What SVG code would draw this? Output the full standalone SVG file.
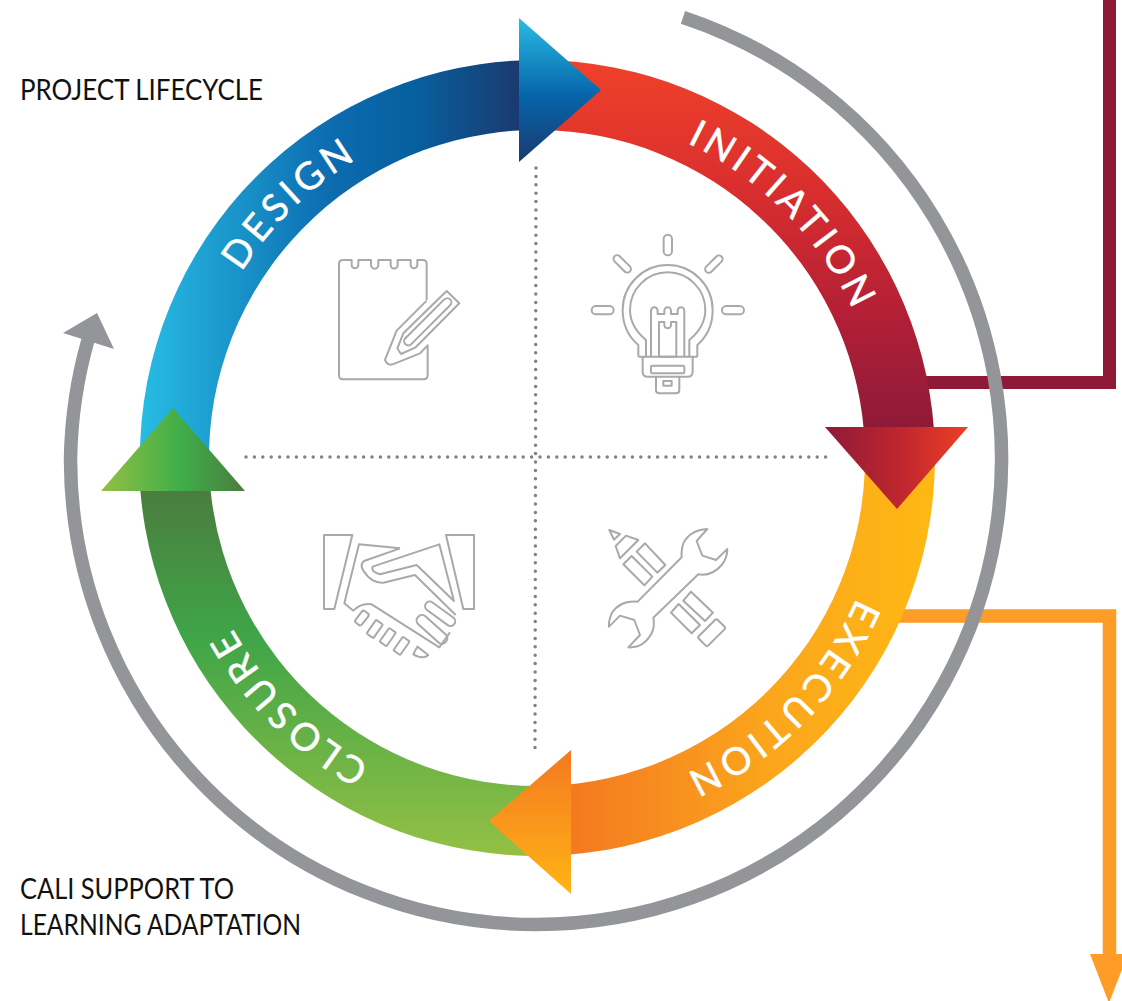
<svg xmlns="http://www.w3.org/2000/svg" width="1122" height="1001" viewBox="0 0 1122 1001">
<style>
.lbl{font-family:"Lato","Liberation Sans",sans-serif;font-size:28px;fill:#111}
.ring{font-family:"Lato","Liberation Sans",sans-serif;font-size:38px;fill:#fff;stroke:#fff;stroke-width:.5;letter-spacing:4.500px;text-anchor:middle}
.ic{fill:none;stroke:#a7a9ac;stroke-width:6;stroke-linejoin:round}
.dot{fill:none;stroke:#808285;stroke-width:3.5;stroke-linecap:round;stroke-dasharray:0 8.4}
</style>
<defs>
<linearGradient id="gInit" gradientUnits="userSpaceOnUse" x1="0" y1="62" x2="0" y2="427"><stop offset="0" stop-color="#ef412a"/><stop offset=".35" stop-color="#d92e2e"/><stop offset=".7" stop-color="#b21f36"/><stop offset="1" stop-color="#8e1a38"/></linearGradient>
<linearGradient id="gExec" gradientUnits="userSpaceOnUse" x1="571" y1="0" x2="935" y2="0"><stop offset="0" stop-color="#f47920"/><stop offset=".55" stop-color="#fba61c"/><stop offset="1" stop-color="#feb813"/></linearGradient>
<linearGradient id="gClos" gradientUnits="userSpaceOnUse" x1="0" y1="491" x2="0" y2="857"><stop offset="0" stop-color="#4a7d3f"/><stop offset=".4" stop-color="#3fa548"/><stop offset="1" stop-color="#94c044"/></linearGradient>
<linearGradient id="gDes" gradientUnits="userSpaceOnUse" x1="141" y1="0" x2="519" y2="0"><stop offset="0" stop-color="#27bce4"/><stop offset=".5" stop-color="#0c6cb0"/><stop offset=".72" stop-color="#07609f"/><stop offset="1" stop-color="#1a3a70"/></linearGradient>
<linearGradient id="aBlue" gradientUnits="userSpaceOnUse" x1="0" y1="18" x2="0" y2="162"><stop offset="0" stop-color="#27bce4"/><stop offset=".55" stop-color="#0663a9"/><stop offset="1" stop-color="#1a3a70"/></linearGradient>
<linearGradient id="aRed" gradientUnits="userSpaceOnUse" x1="825" y1="0" x2="968" y2="0"><stop offset="0" stop-color="#8e1a38"/><stop offset=".55" stop-color="#c1272d"/><stop offset="1" stop-color="#ee4027"/></linearGradient>
<linearGradient id="aOr" gradientUnits="userSpaceOnUse" x1="0" y1="750" x2="0" y2="894"><stop offset="0" stop-color="#f47920"/><stop offset="1" stop-color="#feb415"/></linearGradient>
<linearGradient id="aGr" gradientUnits="userSpaceOnUse" x1="101" y1="0" x2="245" y2="0"><stop offset="0" stop-color="#94c044"/><stop offset=".55" stop-color="#3fae49"/><stop offset="1" stop-color="#4a7d3f"/></linearGradient>
<path id="pI" d="M570.4 110.6A349 349 0 0 1 884.9 430.6"/>
<path id="pD" d="M189.3 427.6A349 349 0 0 1 506.6 110.3"/>
<path id="pE" d="M884.9 485.4A349 349 0 0 1 570.4 805.4"/>
<path id="pC" d="M506.6 805.7A349 349 0 0 1 189.3 488.4"/>
</defs>
<rect width="1122" height="1001" fill="#fff"/>
<g id="connectors">
<path d="M1109.500 0V382.500H920" fill="none" stroke="#8e1a38" stroke-width="13"/>
<path d="M890 616H1109.500V956" fill="none" stroke="#fd9d27" stroke-width="13.500"/>
<polygon points="1090,954 1128,954 1109,1003" fill="#fd9d27"/>
<path d="M683 17.300A465.500 465.500 0 0 1 536 924.500A465.500 465.500 0 0 1 70.500 459A465.500 465.500 0 0 1 88 340" fill="none" stroke="#939598" stroke-width="13.500"/>
<polygon points="63,333 97,313 114,349" fill="#939598"/>
</g>
<g id="dividers">
<path class="dot" d="M246 457H828"/>
<path class="dot" d="M536 168L535 748"/>
</g>
<g id="design">
<path d="M140.500 480A398 398 0 0 1 519 60.400V130.500A328 328 0 0 0 209.700 480Z" fill="url(#gDes)"/>
<text class="ring"><textPath href="#pD" startOffset="51%">DESIGN</textPath></text>
</g>
<g id="initiation">
<path d="M540 60A398 398 0 0 1 934 430H863.800A328 328 0 0 0 540 130Z" fill="url(#gInit)"/>
<text class="ring"><textPath href="#pI" startOffset="50%">INITIATION</textPath></text>
</g>
<g id="execution">
<path d="M934.500 440A398 398 0 0 1 545 855.900V785.900A328 328 0 0 0 864.500 440Z" fill="url(#gExec)"/>
<text class="ring"><textPath href="#pE" startOffset="50%">EXECUTION</textPath></text>
</g>
<g id="closure">
<path d="M545 855.900A398 398 0 0 1 140.400 491H210.700A328 328 0 0 0 545 785.900Z" fill="url(#gClos)"/>
<text class="ring"><textPath href="#pC" startOffset="50%">CLOSURE</textPath></text>
</g>
<g id="arrowheads">
<polygon points="519,18 601,90 519,162" fill="url(#aBlue)"/>
<polygon points="825,427 968,427 897,509" fill="url(#aRed)"/>
<polygon points="571,750 489,821 571,894" fill="url(#aOr)"/>
<polygon points="101,491 245,491 173,408" fill="url(#aGr)"/>
</g>
<g id="icon-notepad" class="ic" transform="translate(300 220) scale(.3333)">
<path d="M380 240V132Q380 120 368 120H352V135A10 10 0 0 1 332 135V120H293V135A10.500 10.500 0 0 1 272 135V120H235V135A11 11 0 0 1 213 135V120H175V135A10 10 0 0 1 155 135V120H129Q117 120 117 132V466Q117 478 129 478H371Q383 478 383 466V376L360 400L278 433Q262 438 255 420L290 332L380 242"/>
<path d="M310 340L440 213L478 250L347 382L303 402L292 385Z"/>
<rect x="288" y="293" width="190" height="25" rx="12.500" transform="rotate(-45 383 305)"/>
</g>
<g id="icon-bulb" class="ic" transform="translate(570 220) scale(.3333)">
<rect x="281" y="44" width="25" height="62" rx="12.500"/>
<rect x="65" y="258" width="66" height="25" rx="12.500"/>
<rect x="456" y="258" width="66" height="25" rx="12.500"/>
<rect x="124" y="121" width="65" height="22" rx="11" transform="rotate(45 157 132)"/>
<rect x="399" y="121" width="65" height="22" rx="11" transform="rotate(-45 432 132)"/>
<path d="M205 410V375Q158 335 158 270A135 135 0 0 1 428 270Q428 335 382 375V410"/>
<path d="M228 410V360Q180 320 180 270A113 113 0 0 1 406 270Q406 320 358 360V410"/>
<path d="M243 410V272A10 10 0 0 1 263 272V282H283V272A10 10 0 0 1 303 272V282H323V272A10 10 0 0 1 343 272V410"/>
<path d="M267 410V306H283V315A10 10 0 0 0 303 315V306H319V410Z"/>
<path d="M205 410H382"/>
<path d="M218 410V455Q218 470 233 470H353Q368 470 368 455V410"/>
<rect x="243" y="437" width="100" height="23" rx="4"/>
<path d="M258 470V510Q258 520 268 520H318Q328 520 328 510V470"/>
<rect x="280" y="483" width="25" height="14"/>
</g>
<g id="icon-handshake" class="ic" transform="translate(300 515) scale(.3333)">
<polygon points="72,60 157,60 103,282 72,282"/>
<polygon points="438,60 522,60 522,282 490,282"/>
<path d="M300 100L177 88L133 265L160 287Q185 262 215 268L418 397L450 352"/>
<path d="M300 100L192 138Q178 150 192 170Q215 205 250 203L345 180L467 300"/>
<path d="M462 258L418 88L218 155Q212 170 240 178L350 150Z"/>
<rect x="368" y="282" width="105" height="28" rx="14" transform="rotate(36 420 296)"/>
<rect x="340" y="327" width="112" height="32" rx="15" transform="rotate(42 396 343)"/>
<rect x="168" y="300" width="44" height="24" rx="7" transform="rotate(-52 185 315)"/>
<rect x="198" y="328" width="50" height="25" rx="3" transform="rotate(-55 225 340)"/>
<rect x="238" y="352" width="50" height="25" rx="3" transform="rotate(-55 265 365)"/>
<rect x="280" y="380" width="50" height="25" rx="3" transform="rotate(-55 305 393)"/>
<path d="M352 395L385 420Q370 435 340 418Z"/>
</g>
<g id="icon-tools" class="ic" transform="translate(590 515) scale(.3333)">
<polygon points="58,45 90,57 72,74"/>
<polygon points="108,62 145,75 90,130 77,93"/>
<polygon points="165,85 226,150 202,173 140,110"/>
<polygon points="125,123 187,185 163,211 100,148"/>
<polygon points="303,230 369,293 345,318 280,257"/>
<polygon points="266,267 330,330 305,355 243,293"/>
<rect x="325" y="333" width="80" height="40" rx="6" transform="rotate(-45 365 353)"/>
<path d="M352 42Q300 45 280 85Q273 110 275 127L143 260Q90 255 65 295Q55 320 57 335L90 302L133 315L150 360L115 397Q160 400 185 355Q195 335 190 308L325 178Q365 185 395 150Q412 130 412 102L378 135L337 122L320 78Z"/>
</g>
<g id="labels">
<text class="lbl" x="20" y="100" textLength="243" lengthAdjust="spacingAndGlyphs">PROJECT LIFECYCLE</text>
<text class="lbl" x="20" y="899" textLength="214" lengthAdjust="spacingAndGlyphs">CALI SUPPORT TO</text>
<text class="lbl" x="20" y="935" textLength="281" lengthAdjust="spacingAndGlyphs">LEARNING ADAPTATION</text>
</g>
</svg>
